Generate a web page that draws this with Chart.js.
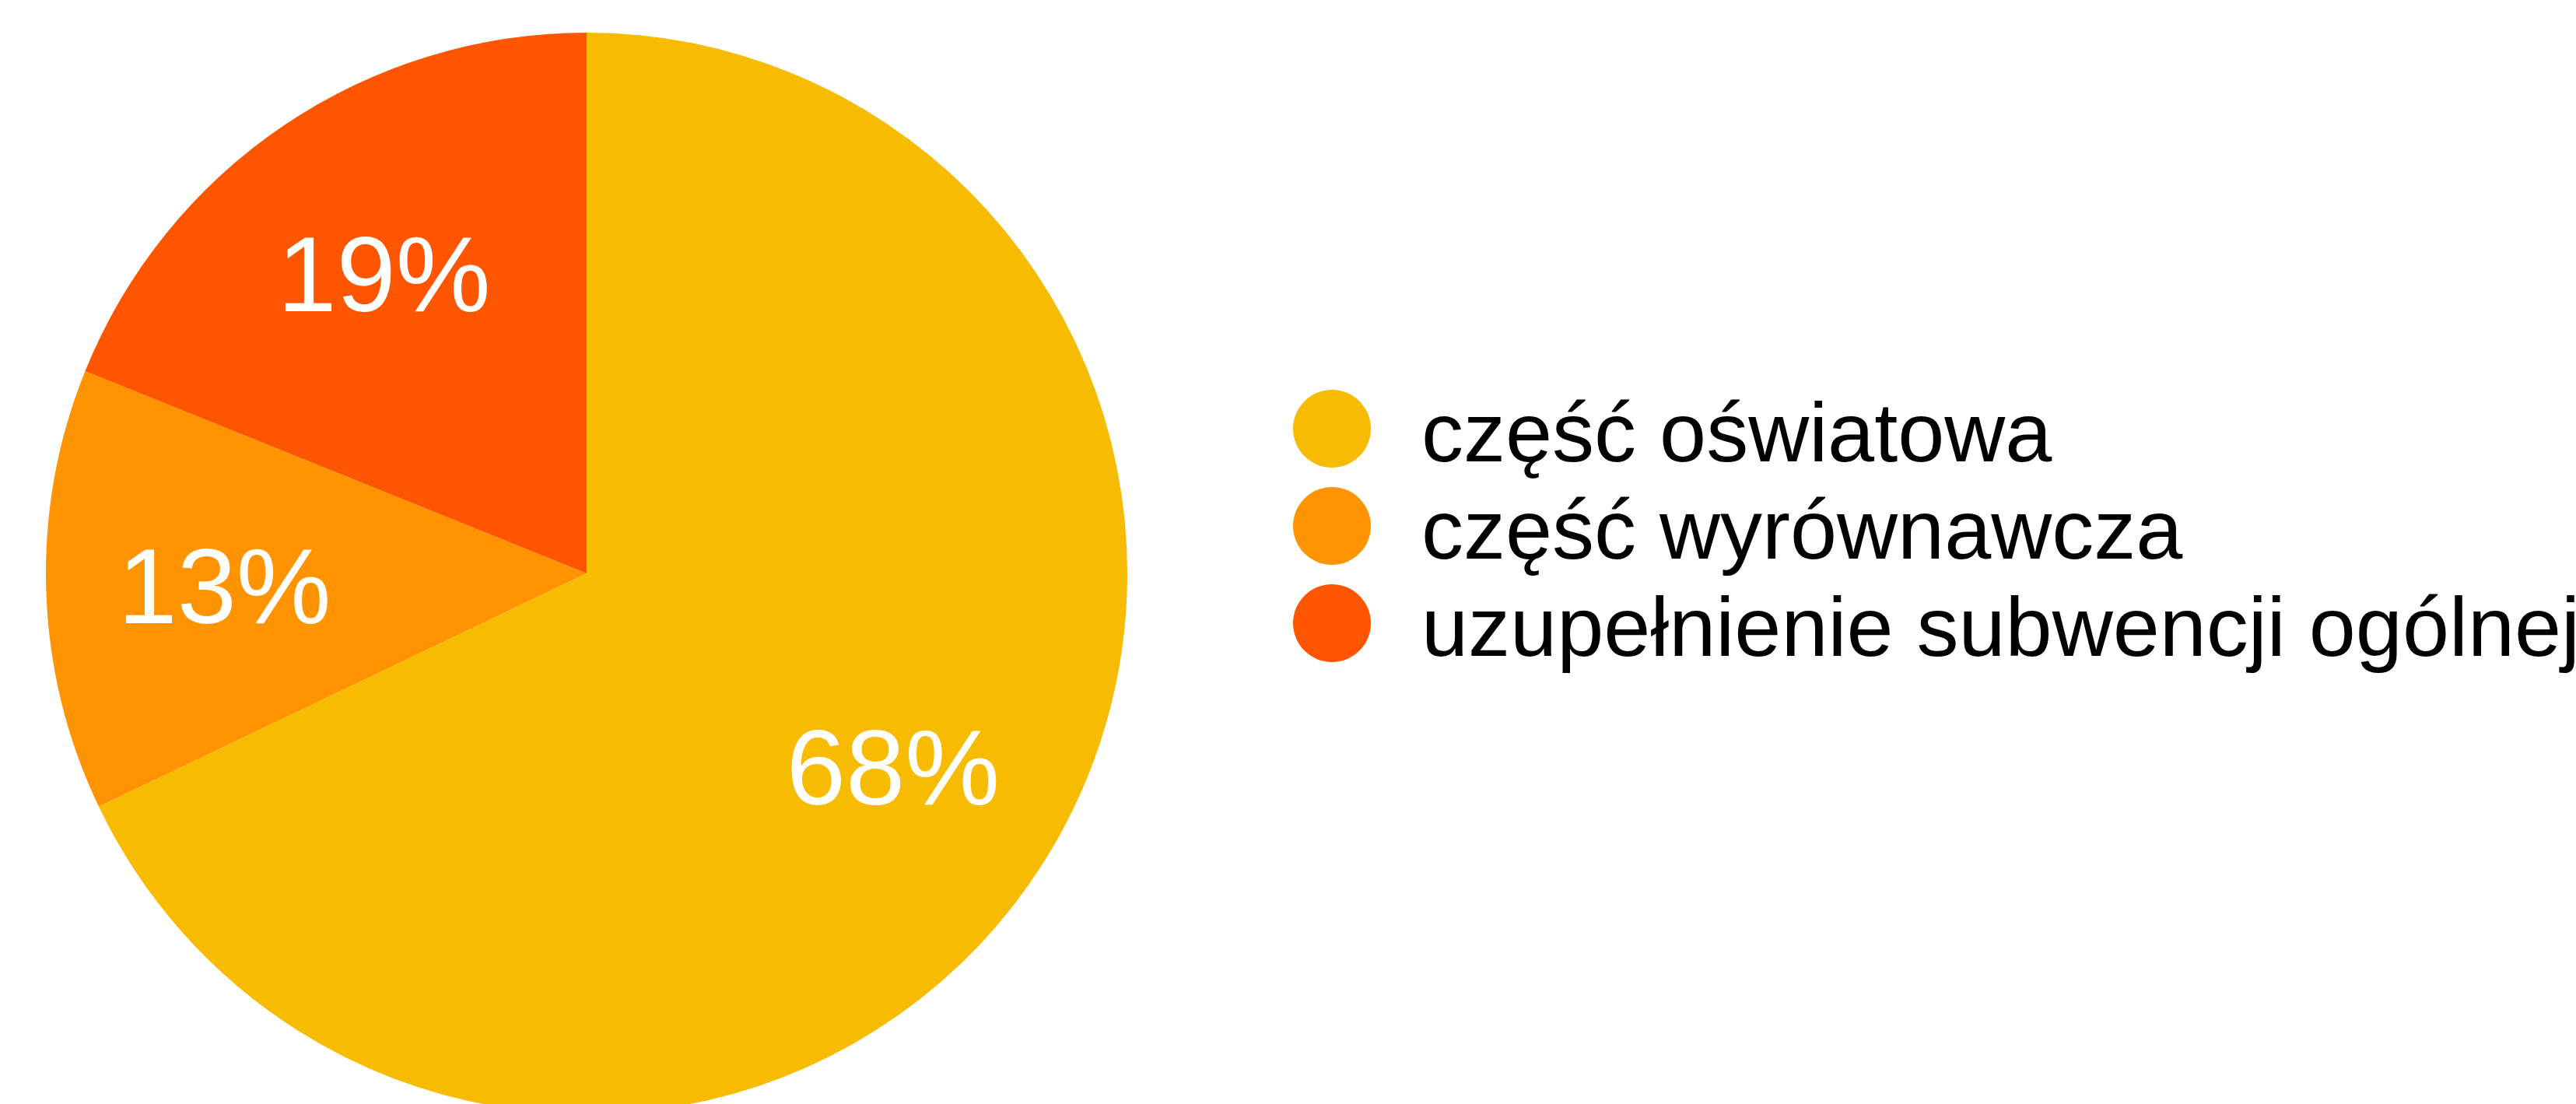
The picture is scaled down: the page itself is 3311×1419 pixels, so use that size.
<!DOCTYPE html>
<html>
<head>
<meta charset="utf-8">
<script src="https://cdn.jsdelivr.net/npm/chart.js@4"></script>
<style>
    html, body { margin: 0; padding: 0; background: #fff; overflow: hidden; }
    #wrap { position: absolute; left: 0; top: 0; width: 3311px; height: 1474px; }
</style>
</head>
<body>
<div id="wrap"><canvas id="pieChart"></canvas></div>
<script>
const labels = ["część oświatowa", "część wyrównawcza", "uzupełnienie subwencji ogólnej"];
const shares = [67.9, 13.2, 18.9];
const colors = ["#F7BB00", "#FF9400", "#FE5600"];

const fontName = "'Liberation Sans', Arial, Helvetica, sans-serif";

// percentage labels inside the slices
const sliceLabels = {
    id: "sliceLabels",
    afterDatasetsDraw(chart) {
        const ctx = chart.ctx;
        const meta = chart.getDatasetMeta(0);
        const size = 137;
        ctx.save();
        ctx.fillStyle = "#fff";
        ctx.font = size + "px " + fontName;
        ctx.textAlign = "center";
        ctx.textBaseline = "alphabetic";
        meta.data.forEach((arc, i) => {
            const p = arc.getProps(["x", "y", "startAngle", "endAngle", "outerRadius"], true);
            const mid = (p.startAngle + p.endAngle) / 2;
            const r = p.outerRadius * 0.67;
            const x = p.x + Math.cos(mid) * r;
            const y = p.y + Math.sin(mid) * r;
            ctx.fillText(Math.round(shares[i]) + "%", x, y + size * 0.358);
        });
        ctx.restore();
    }
};

// legend to the right of the pie
const sideLegend = {
    id: "sideLegend",
    afterDraw(chart) {
        const ctx = chart.ctx;
        const ds = chart.data.datasets[0];
        const cx = 1712, top = 551, step = 125, dot = 50;
        ctx.save();
        ctx.font = "108px " + fontName;
        ctx.textAlign = "left";
        ctx.textBaseline = "alphabetic";
        chart.data.labels.forEach((lab, i) => {
            const y = top + i * step;
            ctx.fillStyle = ds.backgroundColor[i];
            ctx.beginPath();
            ctx.arc(cx, y, dot, 0, Math.PI * 2);
            ctx.fill();
            ctx.fillStyle = "#000";
            ctx.fillText(lab, 1827, y + 42);
        });
        ctx.restore();
    }
};

const ctx = document.getElementById("pieChart").getContext("2d");
const pieChart = new Chart(ctx, {
    type: "pie",
    data: {
        labels: labels,
        datasets: [{
            data: shares,
            backgroundColor: colors,
            borderWidth: 0,
            hoverOffset: 0,
            offset: 0
        }]
    },
    options: {
        responsive: true,
        maintainAspectRatio: false,
        animation: false,
        layout: {
            padding: { left: 59, top: 42, right: 1862, bottom: 42 }
        },
        plugins: {
            legend: { display: false },
            tooltip: { enabled: false },
            title: { display: false }
        }
    },
    plugins: [sliceLabels, sideLegend]
});
</script>
</body>
</html>
